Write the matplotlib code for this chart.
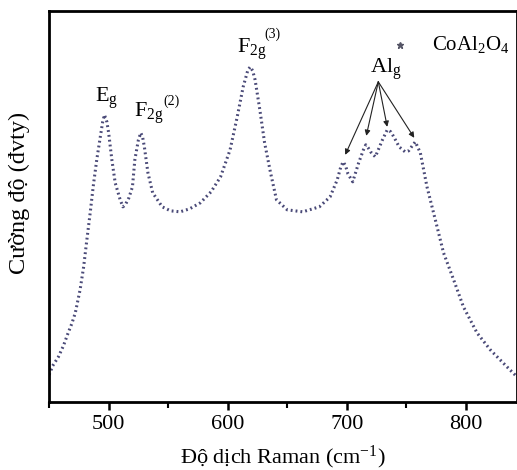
import numpy as np
import matplotlib
matplotlib.use("Agg")
import matplotlib.pyplot as plt

plt.rcParams['font.family'] = ['Liberation Serif', 'DejaVu Serif']
plt.rcParams['mathtext.fontset'] = 'custom'
plt.rcParams['mathtext.rm'] = 'Liberation Serif'
plt.rcParams['mathtext.it'] = 'Liberation Serif:italic'

# Raman shift (cm-1) and intensity (a.u.)
raman_shift = [450, 453, 457.8, 462, 466, 469, 472, 476, 479, 481.7, 484.5, 487, 490, 493, 495, 496.5,
               498.5, 500, 502.7, 505.5, 509.7, 512, 514, 517, 520, 522, 525, 527, 528.5, 530, 533, 537,
               545, 552, 560, 568, 577, 586, 594, 602, 608, 613, 617, 619, 621, 623, 627,
               631, 636, 641, 650, 663, 677, 686, 692, 695, 697, 699, 701, 705, 710, 714,
               716, 718, 720, 724, 730, 734, 737, 740, 744, 749, 752, 755, 757.6, 761.8, 767.4,
               774.4, 781.3, 789.8, 798, 809.4, 820.6, 834.6, 843]
intensity = [27, 36, 45, 56, 69, 78, 89, 112, 135, 162, 189, 215, 242, 265, 280, 287,
             280, 269, 242, 219, 202, 195, 197, 204, 215, 242, 262, 269, 265, 255, 229, 209,
             195, 191, 190, 193, 199, 210, 225, 252, 285, 315, 332, 335, 331, 322, 292,
             259, 229, 202, 192, 190, 195, 205, 222, 235, 240, 236, 228, 220, 239, 252,
             257, 254, 250, 245, 262, 272, 270, 264, 255, 250, 251, 256, 260, 249, 215,
             182, 149, 122, 95, 69, 52, 35, 25]

fig = plt.figure(figsize=(5.17, 4.70), dpi=100)
ax = fig.add_axes([0.095, 0.145, 0.905, 0.832])

ax.plot(raman_shift, intensity, color='#4a4a78', lw=2.2, linestyle=(0, (0.6, 1.0)))

ax.set_xlim(450, 843)
ax.set_ylim(0, 391)
ax.set_xticks([500, 600, 700, 800])
ax.set_xticks([450, 550, 650, 750], minor=True)
ax.set_yticks([])
ax.tick_params(axis='x', which='major', direction='out', length=6, width=1.8, labelsize=16)
ax.tick_params(axis='x', which='minor', direction='out', length=4, width=1.5)
for s in ax.spines.values():
    s.set_linewidth(2)

ax.set_xlabel('Độ dịch Raman (cm$^{-1}$)', fontsize=16, va='top')
ax.xaxis.set_label_coords(0.5, -0.106)
ax.set_ylabel('Cường độ (đvty)', fontsize=17.5)
ax.yaxis.set_label_coords(-0.04, 0.535)

# peak labels
ax.text(488.7, 300, 'E$_{\\mathrm{g}}$', fontsize=16, va='baseline')
ax.text(521.4, 285, 'F$_{\\mathrm{2g}}$', fontsize=16, va='baseline')
ax.text(546, 301, '(2)', fontsize=10, va='center')
ax.text(608, 349, 'F$_{\\mathrm{2g}}$', fontsize=16, va='baseline')
ax.text(631, 368, '(3)', fontsize=10, va='center')
ax.text(719.7, 329, 'Al$_{\\mathrm{g}}$', fontsize=16, va='baseline')

heads = [(698.7, 247), (716.4, 266), (734, 275), (756.7, 264)]
for hx, hy in heads:
    ax.annotate('', xy=(hx, hy), xytext=(726.5, 320),
                arrowprops=dict(arrowstyle='-|>', color='#222222', lw=0.8,
                                mutation_scale=8, shrinkA=0, shrinkB=0))

# legend
ax.plot([745], [357], marker='*', color='#555566', markersize=5, linestyle='none')
ax.text(771.8, 357, 'CoAl$_{\\mathrm{2}}$O$_{\\mathrm{4}}$', fontsize=15, va='center')

fig.savefig('out.png', dpi=100)
